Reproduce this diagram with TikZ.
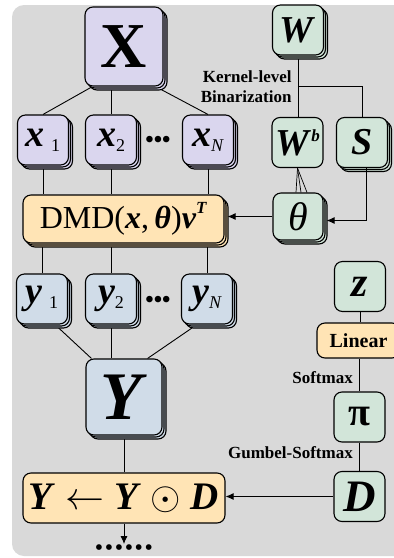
\documentclass[tikz,border=0pt]{standalone}
\usepackage{fix-cm}
\usepackage{fontspec}
\setmainfont{Liberation Serif}
\usetikzlibrary{arrows.meta,positioning,calc,shadows}
\definecolor{panelgray}{RGB}{217,217,217}
\definecolor{lavender}{RGB}{218,214,238}
\definecolor{paleblue}{RGB}{208,220,232}
\definecolor{palegreen}{RGB}{210,229,217}
\definecolor{paleorange}{RGB}{255,228,181}
\newcommand{\bfit}[1]{\textbf{\textit{#1}}}
\newcommand{\lowidx}[1]{\raisebox{-5pt}{\fontsize{18}{18}\selectfont #1}}
\newcommand{\upidx}[2]{\raisebox{#1}{\fontsize{17}{17}\selectfont #2}}
\pgfdeclarelayer{back}
\pgfdeclarelayer{wires}
\pgfsetlayers{back,wires,main}

\begin{document}
\begin{tikzpicture}[
    x=1pt, y=-1pt,
    >={Latex[length=8pt,width=7pt]},
    box/.style={
        rounded corners=8pt,
        draw=black,
        line width=1.1pt,
        inner sep=0pt,
        align=center
    },
    flatbox/.style={box, fill=#1},
    stackbox/.style={
        box,
        copy shadow={shadow xshift=4pt, shadow yshift=-4pt, fill=#1, draw=black},
        copy shadow={shadow xshift=2pt, shadow yshift=-2pt, fill=#1, draw=black},
        fill=#1
    },
    cell/.style={minimum width=51pt, minimum height=50pt},
    wire/.style={line width=0.9pt},
    tag/.style={font=\fontsize{17}{20}\selectfont\bfseries, inner sep=0pt, align=right},
    ellip/.style={font=\fontsize{24}{24}\selectfont\bfseries, inner sep=0pt}
]
\useasboundingbox (0,0) rectangle (394,558);
\clip (0,0) rectangle (394,558);
\begin{pgfonlayer}{back}
\fill[white] (0,0) rectangle (394,558);
\fill[panelgray, rounded corners=12pt] (12,5) rectangle (440,556);
\end{pgfonlayer}

% main branch
\node[stackbox=lavender, minimum width=78pt, minimum height=79pt,
    font=\fontsize{64}{64}\selectfont\bfseries] (X) at (124,46.5) {X};

\node[stackbox=lavender, cell, font=\fontsize{38}{38}\selectfont] (x1) at (43,140)
{\bfit{x}\,\lowidx{1}};
\node[stackbox=lavender, cell, font=\fontsize{38}{38}\selectfont] (x2) at (111,140)
{\bfit{x}\lowidx{2}};
\node[stackbox=lavender, cell, font=\fontsize{38}{38}\selectfont] (xN) at (208,140)
{\bfit{x}\lowidx{\textit{N}}};
\node[ellip] (xdots) at (158,142) {•••};

\node[stackbox=paleorange, minimum width=201pt, minimum height=48pt,
    font=\fontsize{32}{32}\selectfont] (dmd) at (123.5,219)
{DMD(\bfit{x},\,\bfit{θ})\bfit{v}\upidx{15pt}{\bfit{T}}};

\node[stackbox=paleblue, cell, font=\fontsize{38}{38}\selectfont] (y1) at (42,299)
{\bfit{y}\,\lowidx{1}};
\node[stackbox=paleblue, cell, font=\fontsize{38}{38}\selectfont] (y2) at (111,299)
{\bfit{y}\lowidx{2}};
\node[stackbox=paleblue, cell, font=\fontsize{38}{38}\selectfont] (yN) at (207,299)
{\bfit{y}\lowidx{\textit{N}}};
\node[ellip] (ydots) at (158,302) {•••};

\node[stackbox=paleblue, minimum width=76pt, minimum height=76pt,
    font=\fontsize{68}{68}\selectfont] (Y) at (124,397) {\bfit{Y}};

\node[flatbox=paleorange, minimum width=202pt, minimum height=50pt,
    font=\fontsize{39}{39}\selectfont] (update) at (124,498)
{\bfit{Y} $\leftarrow$ \bfit{Y} $\odot$ \bfit{D}};

\coordinate (tip) at (124,544);
\node[font=\fontsize{21}{21}\selectfont\bfseries, inner sep=0pt] (more) at (124,550)
{•\hspace{2.6pt}•\hspace{2.6pt}•\hspace{2.6pt}•\hspace{2.6pt}•\hspace{2.6pt}•};

% kernel branch
\node[stackbox=palegreen, cell, font=\fontsize{38}{38}\selectfont] (W) at (298,30) {\bfit{W}};
\node[flatbox=palegreen, cell, font=\fontsize{38}{38}\selectfont] (Wb) at (297.5,142.5)
{\bfit{W}\upidx{14pt}{\bfit{b}}};
\node[stackbox=palegreen, cell, font=\fontsize{38}{38}\selectfont] (S) at (362,142.5) {\bfit{S}};
\node[stackbox=palegreen, minimum width=50pt, minimum height=47pt,
    font=\fontsize{40}{40}\selectfont] (theta) at (298,216.5) {\textit{θ}};

\coordinate (split) at ($(W.south)!0.5!(Wb.north)$);
\node[tag, anchor=east] (binlabel) at ([xshift=-6pt]split) {Kernel-level\\Binarization};

% mask branch
\node[flatbox=palegreen, cell, font=\fontsize{42}{42}\selectfont] (z) at (360,286.5) {\bfit{z}};
\node[flatbox=paleorange, minimum width=83pt, minimum height=35pt,
    font=\fontsize{20}{20}\selectfont\bfseries] (lin) at (358.5,340.5) {Linear};
\node[flatbox=palegreen, cell, font=\fontsize{40}{40}\selectfont\bfseries] (pi) at (359.5,417) {π};
\node[flatbox=palegreen, cell, font=\fontsize{45}{45}\selectfont] (D) at (359.5,496.5) {\bfit{D}};

\node[tag, anchor=east] (smlabel) at (353,378) {Softmax};
\node[tag, anchor=east] (gslabel) at (353,453) {Gumbel-Softmax};

\begin{pgfonlayer}{wires}
\draw[wire] ([xshift=8pt]X.south west) -- (x1.north);
\draw[wire] (X.south -| x2.north) -- (x2.north);
\draw[wire] ([xshift=-8pt]X.south east) -- (xN.north);
\draw[wire] (x1) -- (x1 |- dmd.north);
\draw[wire] (x2) -- (x2 |- dmd.north);
\draw[wire] (xN) -- (xN |- dmd.north);
\draw[wire] (dmd.south -| y1) -- (y1);
\draw[wire] (dmd.south -| y2) -- (y2);
\draw[wire] (dmd.south -| yN) -- (yN);
\draw[wire] ([xshift=13pt]y1.south) -- ([xshift=6pt]Y.north west);
\draw[wire] (y2) -- (y2 |- Y.north);
\draw[wire] ([xshift=-10pt]yN.south) -- ([xshift=-15pt]Y.north east);
\draw[wire] (Y) -- (update);
\draw[wire] (W.south) -- (W.south |- Wb.north);
\draw[wire] (split) -| (S.north);
\foreach \dx in {-2,3,9}
    \draw[line width=0.7pt] (Wb.south) -- ([xshift=\dx pt]theta.north);
\draw[wire] (z) -- (z |- lin.north);
\draw[wire] (lin.south -| pi) -- (pi);
\draw[wire] (pi) -- (D);
\end{pgfonlayer}

\draw[wire, ->] (update) -- (tip);
\draw[wire, ->] (D.west) -- (D.west -| update.east);
\draw[wire, ->] (theta.west) -- ($(theta.west -| dmd.east)+(3,0)$);
\draw[wire, ->] ([xshift=4pt]S.south) |- ([xshift=3pt,yshift=-4pt]theta.east);

\end{tikzpicture}
\end{document}
